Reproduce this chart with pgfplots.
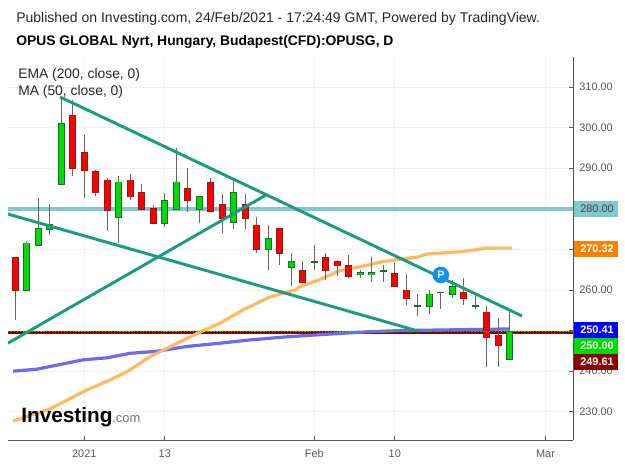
\documentclass[border=0pt]{standalone}
\usepackage{fontspec}
\setmainfont{Liberation Sans}
\usepackage{pgfplots}
\usepackage{pgfplotstable}
\pgfplotsset{compat=1.18}
\definecolor{gridc}{HTML}{F0F0F0}
\definecolor{axisc}{HTML}{555555}
\definecolor{tickt}{HTML}{5A5A5A}
\definecolor{cyanl}{HTML}{80C8D2}
\definecolor{teall}{HTML}{1A9C80}
\definecolor{orangel}{HTML}{FFB95F}
\definecolor{bluel}{HTML}{6A6AF5}
\definecolor{darkr}{HTML}{8B0000}
\definecolor{upf}{HTML}{00DC00}
\definecolor{upd}{HTML}{1A6B33}
\definecolor{dnf}{HTML}{FF0000}
\definecolor{dnd}{HTML}{8B1A1A}
\definecolor{wick}{HTML}{666666}
\definecolor{pblue}{HTML}{1090F0}
\pgfplotstableread{
x lo hi low high
-5 260 271.5 260 272
-4 271 275 271 282.7
-3 275 276 273.6 281.2
-2 286 301 286 307.6
3 277.9 286.5 271.7 288
7 276.4 282 275.6 284
8 280 286.5 280 295
10 280 283 276.6 283
13 276.8 284 275.1 287
16 270 272.5 265 276
18 265.6 267 261.1 269.1
20 267 267 265 271.1
24 263.8 264.3 263 264.9
25 263.8 264.3 262 268.1
26 264.8 264.8 262 266.1
29 256 256 253.7 259
30 256 258.9 254.2 259.9
31 259.4 259.4 255.2 259.4
32 258.9 260.8 258.1 262.5
34 256 256 255.2 258.9
37 242.9 249.75 242.7 255
}\upcandles
\pgfplotstableread{
x lo hi low high
-6 260 268 252.6 268
-1 290 303 288.2 306.8
0 289.5 293.7 282.7 298.2
1 284 289 283.2 289.5
2 279.6 287 274.5 287.6
4 283 287 282.2 288.6
5 280 284 280 286
6 276.4 280 276.4 281
9 282 285 279.3 290
11 279.5 286.4 279.3 287.6
12 277.8 281 274.1 283.6
14 277.8 281 275.1 283.6
15 270 275.9 269.2 278
17 269 275 266.2 275
19 261.9 264.8 261.9 267.1
21 264.8 268 262.5 269.1
22 266 267 263.5 267.5
23 263.4 266 263 268.6
27 260.9 263.9 260.9 266.6
28 258 259.9 256.2 263.9
33 258 259.4 256.2 262.9
35 248.3 254.5 241.1 256
36 246.4 248.8 241.1 253.1
}\dncandles
\newcommand{\candles}[3]{%
  \addplot[draw=none,mark=none,forget plot,
    error bars/.cd,y dir=both,y explicit,error mark=none,
    error bar style={draw=wick,line width=0.7pt}]
    table[x=x,y expr={0.5*(\thisrow{lo}+\thisrow{hi})},
      y error plus expr={\thisrow{high}-0.5*(\thisrow{lo}+\thisrow{hi})},
      y error minus expr={0.5*(\thisrow{lo}+\thisrow{hi})-\thisrow{low}}] {#1};
  \addplot[draw=none,mark=none,forget plot,
    error bars/.cd,y dir=both,y explicit,error mark=none,
    error bar style={draw=#2,line width=5.2pt}]
    table[x=x,y expr={0.5*(\thisrow{lo}+\thisrow{hi})},
      y error plus expr={0.5*(\thisrow{hi}-\thisrow{lo})+0.2},
      y error minus expr={0.5*(\thisrow{hi}-\thisrow{lo})+0.2}] {#1};
  \addplot[draw=none,mark=none,forget plot,
    error bars/.cd,y dir=both,y explicit,error mark=none,
    error bar style={draw=#3,line width=3.9pt}]
    table[x=x,y expr={0.5*(\thisrow{lo}+\thisrow{hi})},
      y error plus expr={0.5*(\thisrow{hi}-\thisrow{lo})},
      y error minus expr={0.5*(\thisrow{hi}-\thisrow{lo})}] {#1};
}
\begin{document}
\begin{tikzpicture}
\useasboundingbox (0,0) rectangle (468.75pt,348pt);
\begin{axis}[
  at={(6pt,17.775pt)},anchor=south west,
  scale only axis,width=423.975pt,height=287.475pt,
  xmin=-6.635,xmax=42.52,ymin=222.98,ymax=317.39,
  axis x line*=bottom,axis y line*=right,
  axis line style={draw=axisc,line width=0.8pt,-},
  xtick={0,7,20,27,40.1},
  xticklabels={2021,13,Feb,10,Mar\hspace{22pt}},
  ytick={230,240,250,260,270,280,290,300,310},
  yticklabels={230.00,240.00,,260.00,,,290.00,300.00,310.00},
  tick label style={font=\fontsize{8.2}{10}\selectfont,text=tickt},
  xticklabel style={text height=7pt,text depth=0pt,yshift=-2pt},
  yticklabel style={xshift=1pt},
  tick style={draw=axisc,line width=0.6pt},
  major tick length=3.5pt,
  grid=major,major grid style={draw=gridc,line width=0.75pt},
]
\addplot[cyanl,line width=2.6pt] coordinates {(-6.635,280)(42.52,280)};
\addplot[darkr,line width=2pt] coordinates {(-6.635,249.61)(42.52,249.61)};
\addplot[bluel,line width=2.4pt] coordinates {(-6.2,240)(-4.11,240.5)(-0.11,242.8)(1.97,243.3)(3.97,244.4)(6.32,244.9)(8.93,246.1)(11.8,246.9)(14.41,247.7)(17.28,248.4)(20.5,249)(24.6,249.7)(27.45,250)(37,250.41)};
\addplot[orangel,line width=2.4pt] coordinates {(-6.2,227.7)(-2.98,230.7)(0.23,235.4)(2.23,237.8)(3.97,240.3)(5.71,243.6)(7.45,246)(9.8,249.3)(11.8,251.8)(13.8,255.1)(15.28,257.1)(16.15,258.3)(18.32,260)(18.76,260.8)(20.5,262.6)(22.24,264.8)(23.98,265.7)(25.97,267)(28.93,268.1)(29.88,268.9)(32.67,269.4)(35.02,270.3)(37.2,270.32)};
\candles{\upcandles}{upd}{upf}
\candles{\dncandles}{dnd}{dnf}
\addplot[teall,line width=2.2pt] coordinates {(-2.11,307.54)(38.06,253.6)};
\addplot[teall,line width=2.2pt] coordinates {(-6.635,278.7)(29.02,249.9)};
\addplot[teall,line width=2.2pt] coordinates {(-6.635,246.9)(15.8,283.4)};
\addplot[upf,line width=0.7pt,dash pattern=on 1pt off 1.2pt] coordinates {(-6.635,249.85)(42.52,249.85)};
\node[circle,fill=pblue,inner sep=0pt,minimum size=12.5pt,text=white,font=\fontsize{8}{8}\selectfont\bfseries] at (axis cs:31,263.7) {P};
\end{axis}
\begin{scope}[shift={(0,348pt)},x=0.75pt,y=-0.75pt]
\node[anchor=base west,inner sep=0pt,text=black!85,font=\fontsize{10.5}{12}\selectfont] at (16,23) {Published on Investing.com, 24/Feb/2021 - 17:24:49 GMT, Powered by TradingView.};
\node[anchor=base west,inner sep=0pt,text=black,font=\fontsize{10.4}{12}\selectfont\bfseries] at (16,46) {OPUS GLOBAL Nyrt, Hungary, Budapest(CFD):OPUSG, D};
\node[anchor=base west,inner sep=0pt,text=black!85,font=\fontsize{10.4}{12}\selectfont] at (18,78.5) {EMA (200, close, 0)};
\node[anchor=base west,inner sep=0pt,text=black!85,font=\fontsize{10.4}{12}\selectfont] at (18,96) {MA (50, close, 0)};
\foreach \yy/\cc/\lbl in {249/orange/270.32,330/blue/250.41,346/upf/250.00,362/darkr/249.61}{
  \fill[\cc] (573.5,\yy-8) rectangle (618,\yy+8);
  \node[text=white,inner sep=0pt,font=\fontsize{8.2}{10}\selectfont\bfseries] at (597,\yy) {\lbl};
}
\fill[cyanl] (573.5,201) rectangle (618,217);
\node[text=black!75,inner sep=0pt,font=\fontsize{8.2}{10}\selectfont] at (597,209) {280.00};
\node[anchor=base west,inner sep=0pt,text=black,font=\fontsize{15.6}{16}\selectfont\bfseries] at (21,423) {Investing};
\node[anchor=base west,inner sep=0pt,text=black!55,font=\fontsize{9.7}{12}\selectfont] at (112,423) {.com};
\end{scope}
\end{tikzpicture}
\end{document}
